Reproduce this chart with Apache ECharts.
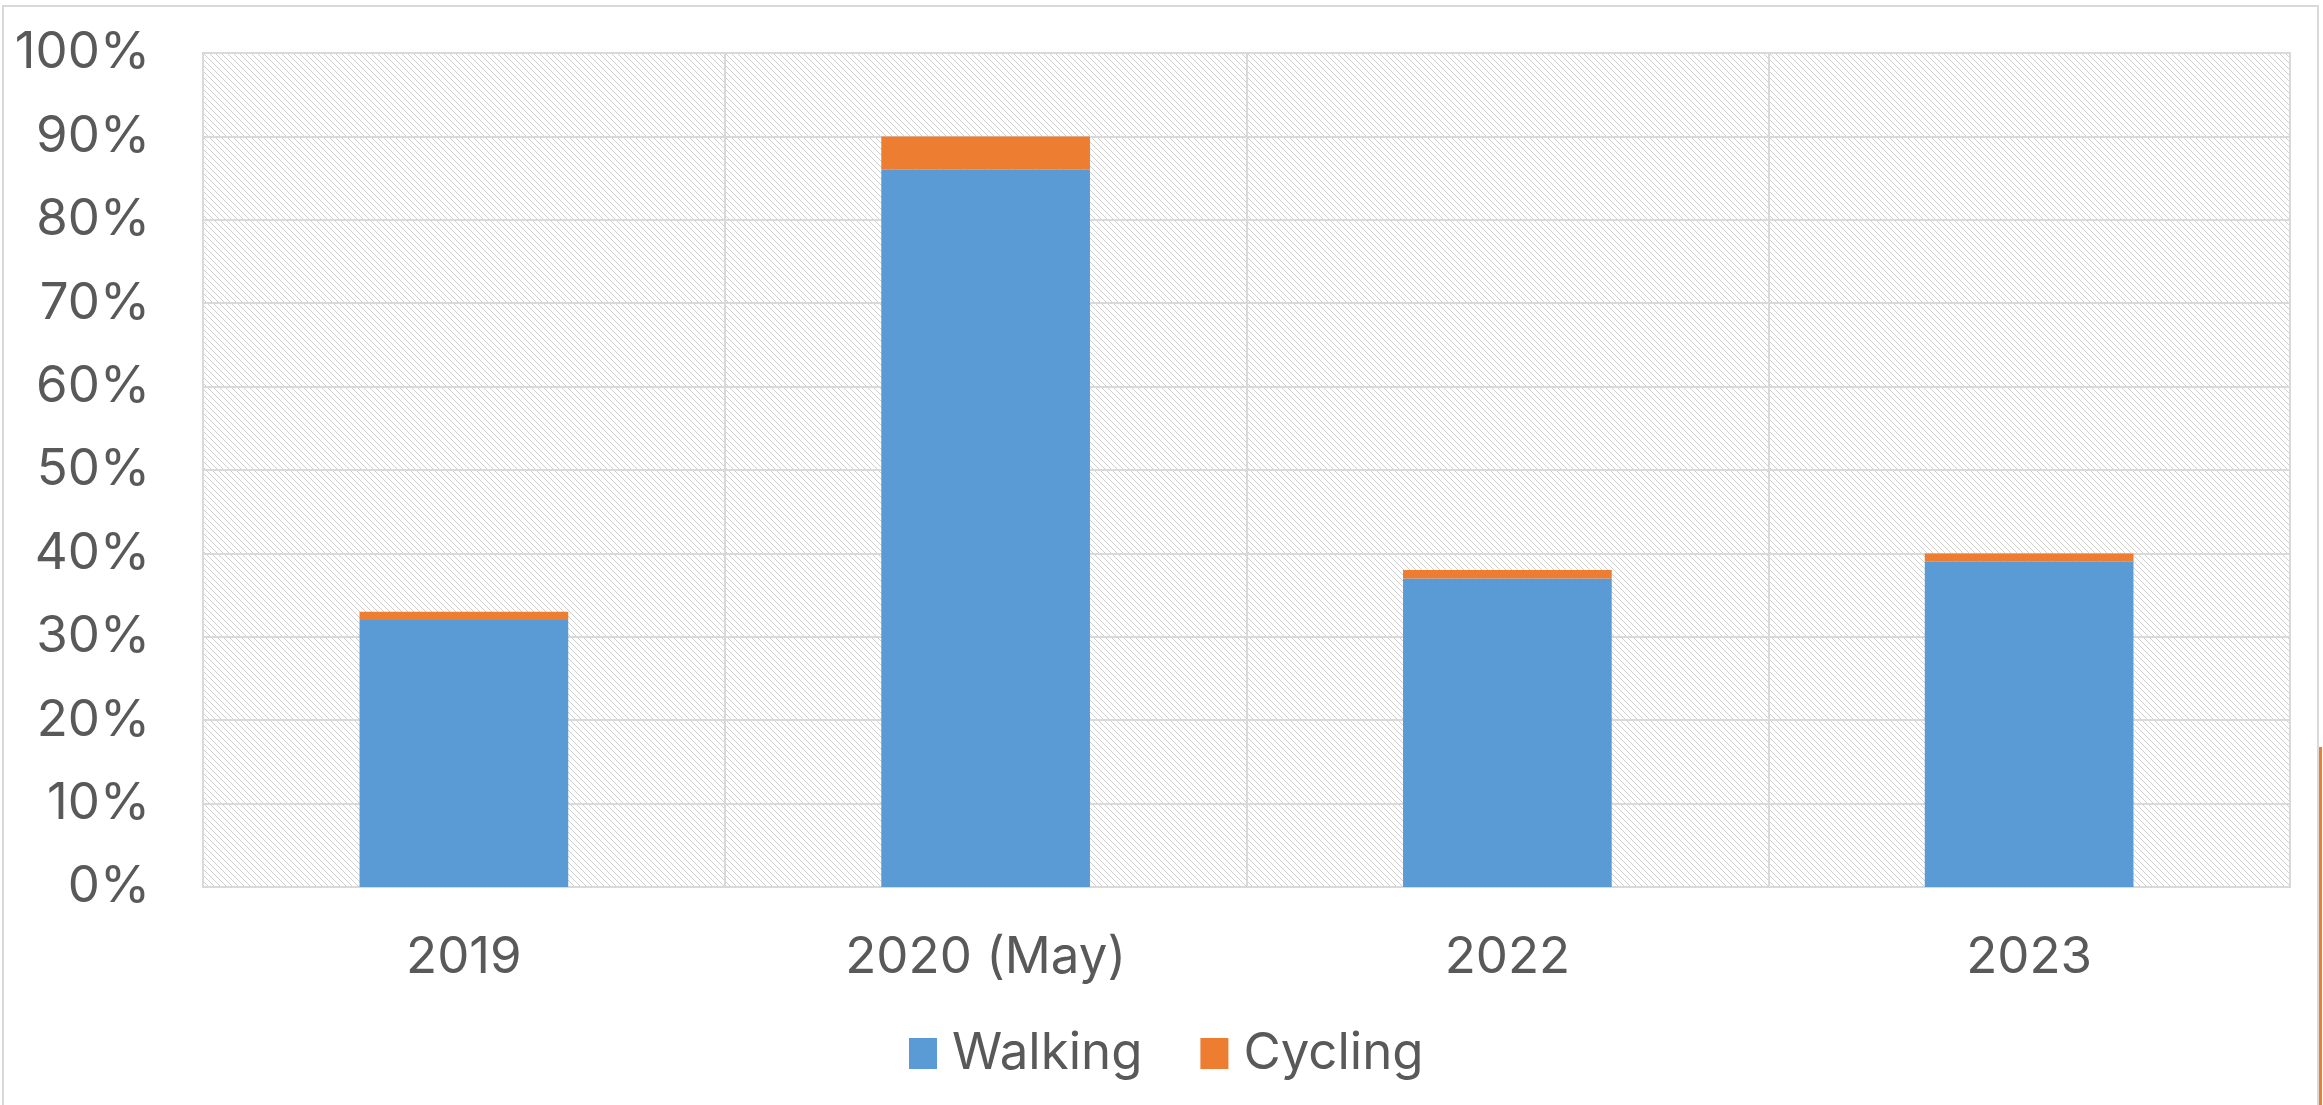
<!DOCTYPE html>
<html>
<head>
<meta charset="utf-8">
<script src="https://cdn.jsdelivr.net/npm/echarts@6/dist/echarts.min.js"></script>
<style>
  html, body { margin: 0; padding: 0; background: #fff; }
  #chart { width: 2323px; height: 1105px; }
</style>
</head>
<body>
<div id="chart"></div>
<script>
var years = ['2019', '2020 (May)', '2022', '2023'];
var walking = [32, 86, 37, 39];
var cycling = [1, 4, 1, 1];
var yTicks = [0, 10, 20, 30, 40, 50, 60, 70, 80, 90, 100];

// light downward-diagonal hatch, like the excel plot area fill
function hatch() {
  var n = 6;
  var c = document.createElement('canvas');
  c.width = n; c.height = n;
  var ctx = c.getContext('2d');
  ctx.fillStyle = '#fff';
  ctx.fillRect(0, 0, n, n);
  ctx.fillStyle = '#cfcfcf';
  for (var i = 0; i < n; i++) ctx.fillRect(i, i, 1, 1);
  return c;
}

var font = 'Inter, "Noto Sans", sans-serif';
var txt = '#595959';
var chart = echarts.init(document.getElementById('chart'));
var option = {
  animation: false,
  color: ['#5B9BD5', '#ED7D31'],
  grid: {
    show: true,
    left: 203, right: 33, top: 53, bottom: 218,
    borderColor: '#D9D9D9', borderWidth: 2,
    backgroundColor: { image: hatch(), repeat: 'repeat' }
  },
  legend: {
    left: 904, top: 1023,
    icon: 'rect', itemWidth: 28, itemHeight: 31, itemGap: 58,
    textStyle: { color: txt, fontSize: 51, fontFamily: font, padding: [0, 0, 0, 10] },
    data: ['Walking', 'Cycling']
  },
  xAxis: {
    type: 'category',
    data: years,
    axisTick: { show: false },
    axisLine: { lineStyle: { color: '#D9D9D9', width: 2 } },
    splitLine: { show: true, lineStyle: { color: '#D9D9D9', width: 2 } },
    axisLabel: { color: txt, fontSize: 51, fontFamily: font, margin: 45 }
  },
  yAxis: {
    type: 'value',
    min: yTicks[0], max: yTicks[yTicks.length - 1], interval: 10,
    axisLine: { show: false },
    axisTick: { show: false },
    splitLine: { lineStyle: { color: '#D9D9D9', width: 2 } },
    axisLabel: { color: txt, fontSize: 51, fontFamily: font, margin: 53, formatter: '{value}%' }
  },
  series: [
    { name: 'Walking', type: 'bar', stack: 'a', data: walking, barWidth: '40%' },
    { name: 'Cycling', type: 'bar', stack: 'a', data: cycling, barWidth: '40%' }
  ],
  graphic: [
    { type: 'rect', shape: { x: 3, y: 6, width: 2315, height: 1120 },
      style: { fill: null, stroke: '#D9D9D9', lineWidth: 2 } },
    { type: 'rect', shape: { x: 2319, y: 747, width: 3, height: 358 },
      style: { fill: '#ED7D31' } }
  ]
};
chart.setOption(option);
</script>
</body>
</html>
